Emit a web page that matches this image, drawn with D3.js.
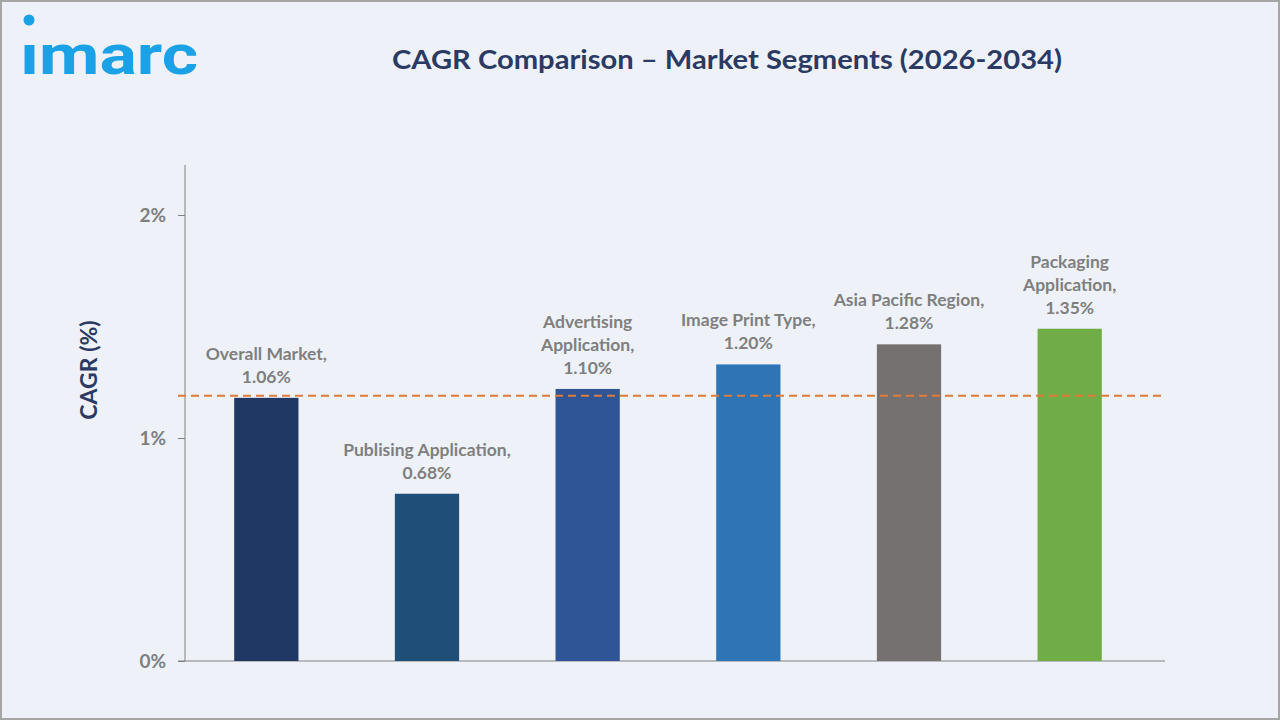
<!DOCTYPE html>
<html>
<head>
<meta charset="utf-8">
<script src="https://cdn.jsdelivr.net/npm/d3@7"></script>
<style>
  html, body { margin: 0; padding: 0; background: #fff; }
  svg { display: block; }
</style>
</head>
<body>
<svg id="chart" width="1280" height="720"></svg>
<script>
// segments, bar heights as drawn, and the printed value labels
const segments = ['Overall Market', 'Publising Application', 'Advertising Application', 'Image Print Type', 'Asia Pacific Region', 'Packaging Application']
const barValues = [1.18, 0.75, 1.22, 1.33, 1.42, 1.49]
const labelLines = [
  ['Overall Market,', '1.06%'],
  ['Publising Application,', '0.68%'],
  ['Advertising', 'Application,', '1.10%'],
  ['Image Print Type,', '1.20%'],
  ['Asia Pacific Region,', '1.28%'],
  ['Packaging', 'Application,', '1.35%']
]
const barColors = ['#203864', '#1f4e79', '#2f5597', '#2e75b6', '#767171', '#70ad47']
const yTicks = [0, 1, 2]
const referenceLine = 1.19

const svg = d3.select('#chart')
const navy = '#2b3a63'
const gray = '#7f7f7f'
const font = 'Lato, "Open Sans", sans-serif'

svg.append('rect')
  .attr('x', 1).attr('y', 1)
  .attr('width', 1278).attr('height', 718)
  .attr('fill', '#eef2f8')
  .attr('stroke', '#a6a6a6')
  .attr('stroke-width', 2)

// logo
const logo = svg.append('g')
logo.append('text')
  .attr('x', 20).attr('y', 74)
  .attr('font-family', 'Roboto, sans-serif')
  .attr('font-weight', 700)
  .attr('font-size', 56)
  .attr('fill', '#1ba1e6')
  .attr('textLength', 178)
  .attr('lengthAdjust', 'spacingAndGlyphs')
  .text('ımarc')
logo.append('circle')
  .attr('cx', 29).attr('cy', 20).attr('r', 5.5)
  .attr('fill', '#1ba1e6')

svg.append('text')
  .attr('x', 727).attr('y', 69)
  .attr('text-anchor', 'middle')
  .attr('font-family', font)
  .attr('font-weight', 700)
  .attr('font-size', 27)
  .attr('fill', navy)
  .attr('textLength', 670)
  .attr('lengthAdjust', 'spacingAndGlyphs')
  .text('CAGR Comparison – Market Segments (2026-2034)')

const x = d3.scaleBand()
  .domain(segments)
  .range([186, 1150])
  .paddingInner(0.6)
  .paddingOuter(0.3)

const y = d3.scaleLinear()
  .domain([0, 2])
  .range([661, 215])

const yAxis = d3.axisLeft(y)
  .tickValues(yTicks)
  .tickSize(7)
  .tickPadding(12)
  .tickFormat(d => d + '%')

const gy = svg.append('g')
  .attr('transform', 'translate(185,0)')
  .call(yAxis)
gy.select('.domain').remove()
gy.selectAll('.tick line').attr('stroke', '#808080')
gy.selectAll('.tick text')
  .attr('font-family', font)
  .attr('font-weight', 700)
  .attr('font-size', 19)
  .attr('fill', gray)

svg.append('line')
  .attr('x1', 185).attr('x2', 185)
  .attr('y1', 165).attr('y2', y(0))
  .attr('stroke', '#808080')
svg.append('line')
  .attr('x1', 178).attr('x2', 1165)
  .attr('y1', y(0)).attr('y2', y(0))
  .attr('stroke', '#808080')

svg.append('text')
  .attr('transform', `translate(97,370) rotate(-90)`)
  .attr('text-anchor', 'middle')
  .attr('font-family', font)
  .attr('font-weight', 700)
  .attr('font-size', 23)
  .attr('fill', navy)
  .text('CAGR (%)')

svg.append('g').selectAll('rect')
  .data(segments)
  .join('rect')
  .attr('x', d => x(d))
  .attr('width', x.bandwidth())
  .attr('y', (d, i) => y(barValues[i]))
  .attr('height', (d, i) => y(0) - y(barValues[i]))
  .attr('fill', (d, i) => barColors[i])

svg.append('line')
  .attr('x1', 178).attr('x2', 1165)
  .attr('y1', y(referenceLine)).attr('y2', y(referenceLine))
  .attr('stroke', '#e07b39')
  .attr('stroke-width', 2)
  .attr('stroke-dasharray', '8,5')

const labels = svg.append('g').selectAll('text')
  .data(segments)
  .join('text')
  .attr('text-anchor', 'middle')
  .attr('font-family', font)
  .attr('font-weight', 700)
  .attr('font-size', 17.5)
  .attr('fill', gray)

labels.each(function (d, i) {
  const lines = labelLines[i]
  const cx = x(d) + x.bandwidth() / 2
  const base = y(barValues[i]) - 15
  d3.select(this).selectAll('tspan')
    .data(lines)
    .join('tspan')
    .attr('x', cx)
    .attr('y', (t, j) => base - (lines.length - 1 - j) * 23)
    .text(t => t)
})
</script>
</body>
</html>
